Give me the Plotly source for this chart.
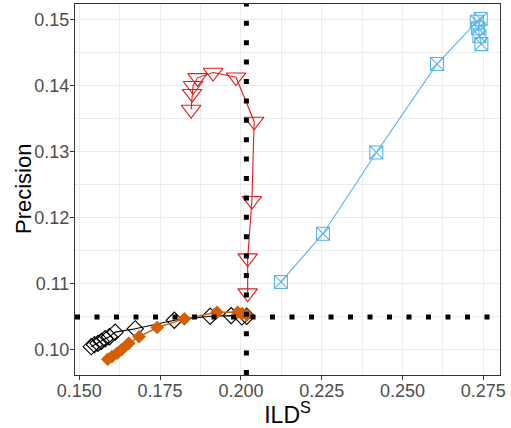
import plotly.graph_objects as go

# ILD^S vs precision for four variants
black_x = [0.1537, 0.1547, 0.1558, 0.1568, 0.1580, 0.1593, 0.1611, 0.1673, 0.1794, 0.1905, 0.1970, 0.2003, 0.2018]
black_y = [0.1005, 0.1008, 0.1010, 0.1013, 0.1017, 0.1020, 0.1027, 0.1032, 0.1045, 0.1051, 0.1052, 0.1050, 0.1051]

orange_x = [0.1588, 0.1601, 0.1617, 0.1632, 0.1653, 0.1685, 0.1741, 0.1825, 0.1926, 0.1990, 0.2004, 0.2019]
orange_y = [0.0986, 0.0990, 0.0995, 0.1001, 0.1010, 0.1020, 0.1034, 0.1047, 0.1057, 0.1057, 0.1055, 0.1053]

red_x = [0.1846, 0.1849, 0.1852, 0.1866, 0.1914, 0.1985, 0.2041, 0.2034, 0.2021, 0.2021]
red_y = [0.1364, 0.1388, 0.1400, 0.1412, 0.1420, 0.1413, 0.1346, 0.1226, 0.1139, 0.1086]

blue_x = [0.2124, 0.2254, 0.2419, 0.2607, 0.2730, 0.2742, 0.2734, 0.2738, 0.2744]
blue_y = [0.1103, 0.1176, 0.1299, 0.1433, 0.1497, 0.1501, 0.1487, 0.1475, 0.1463]

# baseline reference values
base_ild = 0.2017
base_precision = 0.1050

x_ticks = [0.150, 0.175, 0.200, 0.225, 0.250, 0.275]
x_ticklabels = ["0.150", "0.175", "0.200", "0.225", "0.250", "0.275"]
y_ticks = [0.10, 0.11, 0.12, 0.13, 0.14, 0.15]
y_ticklabels = ["0.10", "0.11", "0.12", "0.13", "0.14", "0.15"]

FONT = "Liberation Sans, Arial, sans-serif"

fig = go.Figure()

fig.add_trace(go.Scatter(
    x=black_x, y=black_y, mode="lines+markers",
    line=dict(color="#000000", width=1.1),
    marker=dict(symbol="diamond-open", size=12.5, color="#000000", line=dict(width=1.1)),
    showlegend=False,
))
fig.add_trace(go.Scatter(
    x=orange_x, y=orange_y, mode="lines+markers",
    line=dict(color="#D55E00", width=1.4),
    marker=dict(symbol="diamond", size=10.5, color="#D55E00", line=dict(width=0)),
    showlegend=False,
))
fig.add_trace(go.Scatter(
    x=red_x, y=red_y, mode="lines+markers",
    line=dict(color="#E41A1C", width=1.1),
    marker=dict(symbol="triangle-down-open", size=17, color="#E41A1C", line=dict(width=1.1)),
    showlegend=False,
))
fig.add_trace(go.Scatter(
    x=blue_x, y=blue_y, mode="lines+markers",
    line=dict(color="#56B4E9", width=1.1),
    marker=dict(symbol="square-x-open", size=13, color="#56B4E9", line=dict(width=1.1)),
    showlegend=False,
))

# dotted baseline markers
fig.add_shape(type="line", xref="x domain", yref="y", x0=0, x1=1,
              y0=base_precision, y1=base_precision, layer="above",
              line=dict(color="#000000", width=5, dash="5px,14.5px"))
fig.add_shape(type="line", xref="x", yref="y domain", x0=base_ild, x1=base_ild,
              y0=0, y1=1, layer="above",
              line=dict(color="#000000", width=5, dash="5px,14.4px"))

axis_common = dict(
    showline=True, mirror=True, linecolor="#333333", linewidth=1.1,
    ticks="outside", ticklen=4, tickwidth=1.1, tickcolor="#333333",
    showgrid=True, gridcolor="#EBEBEB", gridwidth=1.1,
    zeroline=False,
    tickfont=dict(family=FONT, size=18, color="#4D4D4D"),
)

fig.update_xaxes(
    range=[0.14867, 0.28017], tickvals=x_ticks, ticktext=x_ticklabels,
    ticklabelstandoff=-5,
    minor=dict(showgrid=True, gridcolor="#EBEBEB", gridwidth=0.55,
               tickvals=[0.1625, 0.1875, 0.2125, 0.2375, 0.2625]),
    title=dict(text="ILD<sup>S</sup>", standoff=6,
               font=dict(family=FONT, size=23, color="#000000")),
    **axis_common,
)
fig.update_yaxes(
    range=[0.09621, 0.15238], tickvals=y_ticks, ticktext=y_ticklabels,
    ticklabelstandoff=-3,
    minor=dict(showgrid=True, gridcolor="#EBEBEB", gridwidth=0.55,
               tickvals=[0.105, 0.115, 0.125, 0.135, 0.145]),
    **axis_common,
)

# y-axis title placed as a rotated annotation
fig.add_annotation(
    text="Precision", textangle=-90, showarrow=False,
    xref="paper", yref="paper", x=(23.5 - 75) / 425, y=0.5,
    xanchor="center", yanchor="middle",
    font=dict(family=FONT, size=22, color="#000000"),
)

fig.update_layout(
    width=511, height=428,
    margin=dict(l=75, r=11, t=4, b=53),
    plot_bgcolor="#FFFFFF", paper_bgcolor="#FFFFFF",
)

fig.write_html("out.html")
